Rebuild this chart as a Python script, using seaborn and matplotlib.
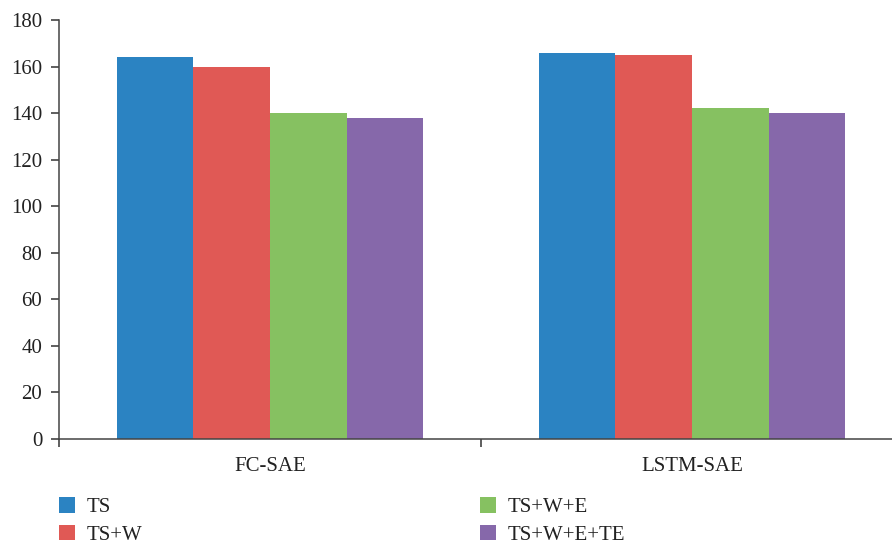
import matplotlib
matplotlib.use("Agg")
import matplotlib.pyplot as plt
from matplotlib.patches import Patch
import seaborn as sns
import pandas as pd

# Chart data
models = ["FC-SAE", "LSTM-SAE"]
features = ["TS", "TS+W", "TS+W+E", "TS+W+E+TE"]
ts_values = [164, 166]
ts_w_values = [160, 165]
ts_w_e_values = [140, 142]
ts_w_e_te_values = [138, 140]
y_ticks = [0, 20, 40, 60, 80, 100, 120, 140, 160, 180]

colors = ["#2b83c2", "#e05955", "#86c161", "#8668aa"]

rows = []
for feat, vals in zip(features, [ts_values, ts_w_values, ts_w_e_values, ts_w_e_te_values]):
    for m, v in zip(models, vals):
        rows.append({"model": m, "feature": feat, "value": v})
df = pd.DataFrame(rows)

sns.set_style("ticks")
plt.rcParams["font.family"] = ["Liberation Serif", "DejaVu Serif"]

FS = 15

fig = plt.figure(figsize=(8.92, 5.45), dpi=100)
ax = fig.add_axes([59 / 892, 1 - 439 / 545, 1 - 59 / 892, (439 - 20) / 545])

sns.barplot(data=df, x="model", y="value", hue="feature", order=models,
            hue_order=features, palette=colors, saturation=1, width=0.727,
            legend=False, ax=ax, linewidth=0)

ax.set_ylim(0, 180)
ax.set_xlim(-0.5, (892 - 59) / 422 - 0.5)
ax.set_yticks(y_ticks)
ax.set_yticklabels([str(t) for t in y_ticks], fontsize=FS, color="#222222")
ax.set_xticks([0, 1])
ax.set_xticklabels(models, fontsize=FS, color="#222222")
ax.tick_params(axis="x", which="major", length=0, pad=13)
ax.set_xticks([-0.5, 0.5], minor=True)
ax.tick_params(axis="x", which="minor", length=6, width=1.1, color="#333333")
ax.tick_params(axis="y", length=6, width=1.1, color="#333333", pad=6)
ax.set_xlabel("")
ax.set_ylabel("")

sns.despine(ax=ax, top=True, right=True)
for side in ["left", "bottom"]:
    ax.spines[side].set_color("#444444")
    ax.spines[side].set_linewidth(1.1)

handles = [Patch(facecolor=c, edgecolor="none") for c in colors]
leg_kw = dict(frameon=False, fontsize=FS, handlelength=0.77, handleheight=0.77,
              handletextpad=0.55, labelspacing=0.38, borderpad=0, borderaxespad=0,
              loc="upper left")
leg1 = fig.legend(handles[:2], features[:2], bbox_to_anchor=(59 / 892, 1 - 497 / 545), **leg_kw)
leg2 = fig.legend(handles[2:], features[2:], bbox_to_anchor=(480 / 892, 1 - 497 / 545), **leg_kw)
for leg in (leg1, leg2):
    for t in leg.get_texts():
        t.set_color("#222222")

fig.savefig("out.png", dpi=100)
